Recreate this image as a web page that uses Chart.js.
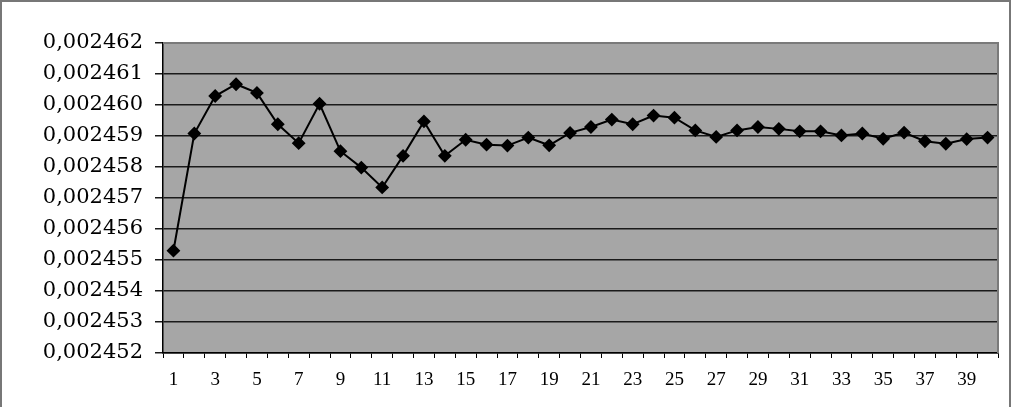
<!DOCTYPE html>
<html>
<head>
<meta charset="utf-8">
<script src="https://cdn.jsdelivr.net/npm/chart.js@4/dist/chart.umd.min.js"></script>
<style>
	body { margin: 0; background: #fff; }
	#wrap {
		position: absolute; left: 0; top: 0;
		width: 1007px; height: 407px;
		border-left: 2px solid #777; border-top: 2px solid #777; border-right: 2px solid #777;
	}
	#chart { position: absolute; left: 0; top: 0; }
</style>
</head>
<body>
<canvas id="chart" width="1011" height="407"></canvas>
<div id="wrap"></div>
<script>
const categories = [
	'1', '2', '3', '4', '5', '6', '7', '8', '9', '10',
	'11', '12', '13', '14', '15', '16', '17', '18', '19', '20',
	'21', '22', '23', '24', '25', '26', '27', '28', '29', '30',
	'31', '32', '33', '34', '35', '36', '37', '38', '39', '40',
];

const values = [
	0.0024553, 0.00245908, 0.00246029, 0.00246067, 0.00246039,
	0.00245938, 0.00245877, 0.00246004, 0.00245851, 0.00245798,
	0.00245734, 0.00245836, 0.00245947, 0.00245836, 0.00245888,
	0.00245872, 0.00245869, 0.00245895, 0.0024587, 0.0024591,
	0.00245929, 0.00245953, 0.00245938, 0.00245966, 0.00245959,
	0.00245918, 0.00245897, 0.00245918, 0.00245929, 0.00245923,
	0.00245915, 0.00245915, 0.00245902, 0.00245908, 0.00245891,
	0.00245911, 0.00245883, 0.00245875, 0.0024589, 0.00245895,
];

const yTicks = [
	0.002452, 0.002453, 0.002454, 0.002455, 0.002456, 0.002457,
	0.002458, 0.002459, 0.00246, 0.002461, 0.002462,
];

// gray plot background + gray frame on top/right
const plotBg = {
	id: 'plotBg',
	beforeDraw(chart) {
		const { ctx, chartArea: a } = chart;
		ctx.save();
		ctx.fillStyle = '#a6a6a6';
		ctx.fillRect(a.left, a.top, a.right - a.left, a.bottom - a.top);
		ctx.restore();
	},
	afterDatasetsDraw(chart) {
		const { ctx, chartArea: a } = chart;
		ctx.save();
		ctx.strokeStyle = '#7a7a7a';
		ctx.lineWidth = 2;
		ctx.beginPath();
		ctx.moveTo(a.left, a.top);
		ctx.lineTo(a.right, a.top);
		ctx.lineTo(a.right, a.bottom);
		ctx.stroke();
		ctx.restore();
	},
};

new Chart(document.getElementById('chart'), {
	type: 'line',
	data: {
		labels: categories,
		datasets: [
			{
				data: values,
				borderColor: '#000',
				borderWidth: 2,
				pointStyle: 'rectRot',
				pointRadius: 5.5,
				pointBackgroundColor: '#000',
				pointBorderColor: '#000',
				tension: 0,
			},
		],
	},
	options: {
		responsive: false,
		animation: false,
		layout: { padding: { left: 0, top: 43, right: 13, bottom: 0 } },
		plugins: {
			legend: { display: false },
			tooltip: { enabled: false },
		},
		scales: {
			x: {
				offset: true,
				afterFit: (scale) => { scale.height = 54; },
				grid: {
					offset: true,
					drawOnChartArea: false,
					drawTicks: true,
					tickLength: 5,
					color: '#000',
				},
				border: { color: '#000', width: 1.5 },
				ticks: {
					autoSkip: false,
					maxRotation: 0,
					padding: 11,
					color: '#000',
					font: { family: 'Liberation Serif', size: 19 },
					callback: (v, i) => (i % 2 === 0 ? categories[i] : ''),
				},
			},
			y: {
				min: 0.002452,
				max: 0.002462,
				afterFit: (scale) => { scale.width = 163; },
				afterBuildTicks: (scale) => { scale.ticks = yTicks.map((v) => ({ value: v })); },
				grid: {
					color: '#1a1a1a',
					lineWidth: 1.5,
					tickLength: 8,
				},
				border: { color: '#000', width: 1.5 },
				ticks: {
					padding: 12,
					color: '#000',
					font: { family: 'DejaVu Serif', size: 21 },
					callback: (v) => v.toFixed(6).replace('.', ','),
				},
			},
		},
	},
	plugins: [plotBg],
});
</script>
</body>
</html>
